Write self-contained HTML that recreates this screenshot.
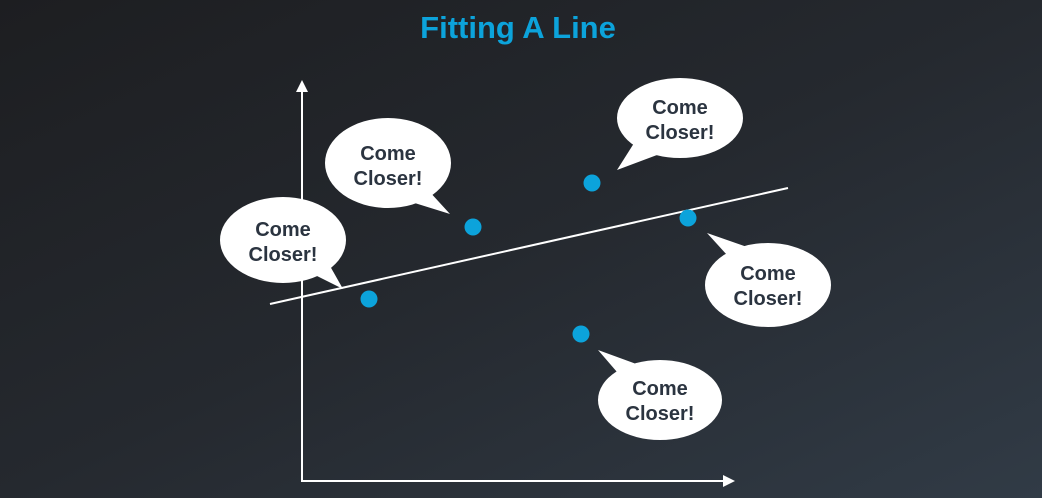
<!DOCTYPE html>
<html><head><meta charset="utf-8"><style>
html,body{margin:0;padding:0;width:1042px;height:498px;overflow:hidden;background:#24272c}
svg{display:block}
text{font-family:"Liberation Sans",sans-serif}
</style></head><body>
<svg width="1042" height="498" viewBox="0 0 1042 498" xmlns="http://www.w3.org/2000/svg">
<defs>
<linearGradient id="bg" x1="0" y1="0" x2="1" y2="1">
<stop offset="0" stop-color="#1d1e21"/><stop offset="0.5" stop-color="#25292f"/><stop offset="1" stop-color="#313b46"/>
</linearGradient>
</defs>
<rect width="1042" height="498" fill="url(#bg)"/>
<text x="518" y="38" text-anchor="middle" font-size="31" font-weight="bold" fill="#0ca3db">Fitting A Line</text>
<g stroke="#fff" stroke-width="2" fill="none">
<line x1="302" y1="84" x2="302" y2="482"/>
<line x1="302" y1="481" x2="731" y2="481"/>
</g>
<g fill="#fff">
<path d="M296,92 L302,80 L308,92 Z"/>
<path d="M723,475 L735,481 L723,487 Z"/>
</g>
<line x1="270" y1="304" x2="788" y2="188" stroke="#fff" stroke-width="2"/>
<g fill="#0ca3db">
<circle cx="473" cy="227" r="8.5"/><circle cx="369" cy="299" r="8.5"/><circle cx="592" cy="183" r="8.5"/><circle cx="688" cy="218" r="8.5"/><circle cx="581" cy="334" r="8.5"/>
</g>
<g fill="#fff">
<ellipse cx="388" cy="163" rx="63" ry="45"/><path d="M405,200 L450,214 L428,190 Z"/>
<ellipse cx="283" cy="240" rx="63" ry="43"/><path d="M305,270 L343,289 L330,266 Z"/>
<ellipse cx="680" cy="118" rx="63" ry="40"/><path d="M636,140 L617,170 L665,152 Z"/>
<ellipse cx="768" cy="285" rx="63" ry="42"/><path d="M727,255 L707,233 L750,248 Z"/>
<ellipse cx="660" cy="400" rx="62" ry="40"/><path d="M617,372 L598,350 L642,366 Z"/>
</g>
<g fill="#2b3440" font-size="20" font-weight="bold" text-anchor="middle">
<text x="388" y="160">Come</text><text x="388" y="185">Closer!</text>
<text x="283" y="236">Come</text><text x="283" y="261">Closer!</text>
<text x="680" y="114">Come</text><text x="680" y="139">Closer!</text>
<text x="768" y="280">Come</text><text x="768" y="305">Closer!</text>
<text x="660" y="395">Come</text><text x="660" y="420">Closer!</text>
</g>
</svg>
</body></html>
